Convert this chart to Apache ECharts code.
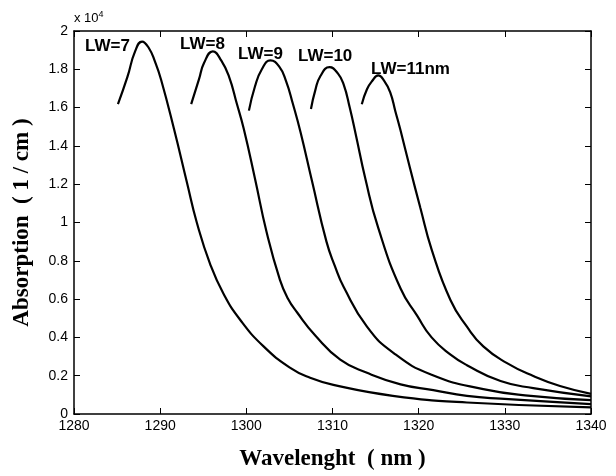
<!DOCTYPE html>
<html>
<head>
<meta charset="utf-8">
<script src="https://cdn.jsdelivr.net/npm/echarts@6/dist/echarts.min.js"></script>
<style>
  html, body { margin: 0; padding: 0; background: #fff; }
  #chart { width: 616px; height: 476px; }
</style>
</head>
<body>
<div id="chart"></div>
<script>
// wavelength (nm) and absorption (x 10^4 1/cm)
const wl7 = [1285.1, 1286.2, 1287.1, 1287.9, 1288.7, 1289.4, 1290.1, 1291.6, 1293.1, 1294.25, 1295.8, 1297.35, 1299.3, 1302.0, 1305.1, 1307.4, 1310.1, 1317.0, 1325.6, 1340]
const ab7 = [1.618, 1.760, 1.895, 1.945, 1.910, 1.840, 1.747, 1.489, 1.210, 1.000, 0.783, 0.628, 0.491, 0.353, 0.241, 0.189, 0.152, 0.095, 0.060, 0.035]

const wl8 = [1293.6, 1294.5, 1295.1, 1296.1, 1297.1, 1298.0, 1298.9, 1299.7, 1301.0, 1302.35, 1303.9, 1304.8, 1305.9, 1308.0, 1310.9, 1314.0, 1317.9, 1321.7, 1325.6, 1329.5, 1340]
const ab8 = [1.618, 1.747, 1.834, 1.894, 1.845, 1.760, 1.620, 1.489, 1.230, 0.950, 0.700, 0.605, 0.530, 0.410, 0.284, 0.215, 0.155, 0.125, 0.095, 0.080, 0.052]

const wl9 = [1300.3, 1301.0, 1301.8, 1302.8, 1303.8, 1304.6, 1305.4, 1306.3, 1307.6, 1309.3, 1310.3, 1311.3, 1314.0, 1317.1, 1321.5, 1327.5, 1333.0, 1340]
const ab9 = [1.584, 1.710, 1.800, 1.847, 1.815, 1.740, 1.620, 1.470, 1.220, 0.900, 0.770, 0.663, 0.456, 0.318, 0.205, 0.130, 0.095, 0.072]

const wl10 = [1307.5, 1308.0, 1308.6, 1309.65, 1310.6, 1311.3, 1312.0, 1312.7, 1313.8, 1315.3, 1317.9, 1319.8, 1321.5, 1323.7, 1325.6, 1329.5, 1333.3, 1340]
const ab10 = [1.593, 1.690, 1.765, 1.811, 1.780, 1.720, 1.600, 1.460, 1.231, 0.973, 0.655, 0.515, 0.400, 0.310, 0.255, 0.172, 0.135, 0.092]

const wl11 = [1313.4, 1314.0, 1314.6, 1315.3, 1316.0, 1316.7, 1317.3, 1317.9, 1319.0, 1320.2, 1321.5, 1323.7, 1325.6, 1327.5, 1330.2, 1333.3, 1336.4, 1340]
const ab11 = [1.618, 1.696, 1.739, 1.768, 1.740, 1.680, 1.580, 1.480, 1.283, 1.076, 0.860, 0.594, 0.456, 0.353, 0.267, 0.198, 0.146, 0.105]

const curveNames = ['LW=7', 'LW=8', 'LW=9', 'LW=10', 'LW=11nm']
const curveX = [wl7, wl8, wl9, wl10, wl11]
const curveY = [ab7, ab8, ab9, ab10, ab11]

const chart = echarts.init(document.getElementById('chart'))

const series = curveNames.map((name, i) => ({
  name: name,
  type: 'line',
  xAxisIndex: 0,
  yAxisIndex: 0,
  data: curveX[i].map((x, k) => [x, curveY[i][k]]),
  smooth: 0.5,
  showSymbol: false,
  lineStyle: { color: '#000', width: 2.2 },
  animation: false
}))

const labelFont = { fontFamily: 'Liberation Sans', fontWeight: 'bold', fontSize: 17, fill: '#000' }

const option = {
  animation: false,
  grid: { left: 74, right: 25, top: 31, bottom: 58 },
  xAxis: [
    {
      type: 'value', min: 1280, max: 1340, interval: 10,
      axisLine: { onZero: false, lineStyle: { color: '#000', width: 1.5 } },
      axisTick: { inside: true, length: 6, lineStyle: { color: '#000' } },
      axisLabel: { color: '#000', fontFamily: 'Liberation Sans', fontSize: 14, margin: 5, formatter: v => String(v) },
      splitLine: { show: false },
      name: 'Wavelenght  ( nm )',
      nameLocation: 'middle',
      nameGap: 34,
      nameTextStyle: { color: '#000', fontFamily: 'Liberation Serif', fontWeight: 'bold', fontSize: 23 }
    },
    {
      type: 'value', position: 'top', min: 1280, max: 1340, interval: 10,
      axisLine: { onZero: false, lineStyle: { color: '#000', width: 1.5 } },
      axisTick: { inside: true, length: 6, lineStyle: { color: '#000' } },
      axisLabel: { show: false },
      splitLine: { show: false }
    }
  ],
  yAxis: [
    {
      type: 'value', min: 0, max: 2, interval: 0.2,
      axisLine: { show: true, onZero: false, lineStyle: { color: '#000', width: 1.5 } },
      axisTick: { show: true, inside: true, length: 6, lineStyle: { color: '#000' } },
      axisLabel: {
        color: '#000', fontFamily: 'Liberation Sans', fontSize: 14, margin: 6,
        formatter: v => String(+v.toFixed(1))
      },
      splitLine: { show: false },
      name: 'Absorption  ( 1 / cm )',
      nameLocation: 'middle',
      nameGap: 40,
      nameTextStyle: { color: '#000', fontFamily: 'Liberation Serif', fontWeight: 'bold', fontSize: 23 }
    },
    {
      type: 'value', position: 'right', min: 0, max: 2, interval: 0.2,
      axisLine: { show: true, onZero: false, lineStyle: { color: '#000', width: 1.5 } },
      axisTick: { show: true, inside: true, length: 6, lineStyle: { color: '#000' } },
      axisLabel: { show: false },
      splitLine: { show: false }
    }
  ],
  graphic: [
    {
      type: 'text', left: 74, top: 10,
      style: {
        text: '{a|x 10}{b|4}',
        rich: {
          a: { fontFamily: 'Liberation Sans', fontSize: 13, fill: '#000', color: '#000' },
          b: { fontFamily: 'Liberation Sans', fontSize: 9, fill: '#000', color: '#000', verticalAlign: 'top', padding: [0, 0, 8, 0] }
        }
      }
    },
    { type: 'text', left: 85, top: 38, style: Object.assign({ text: curveNames[0] }, labelFont) },
    { type: 'text', left: 180, top: 36, style: Object.assign({ text: curveNames[1] }, labelFont) },
    { type: 'text', left: 238, top: 46, style: Object.assign({ text: curveNames[2] }, labelFont) },
    { type: 'text', left: 298, top: 48, style: Object.assign({ text: curveNames[3] }, labelFont) },
    { type: 'text', left: 371, top: 61, style: Object.assign({ text: curveNames[4] }, labelFont) }
  ],
  series: series
}

chart.setOption(option)
</script>
</body>
</html>
